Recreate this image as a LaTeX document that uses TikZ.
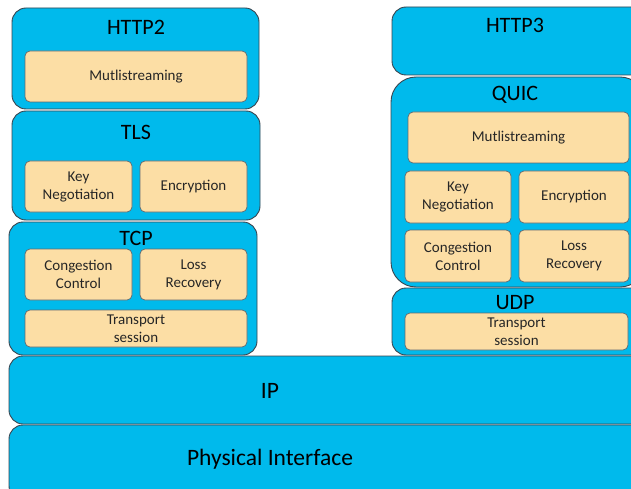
\documentclass[tikz,border=0pt]{standalone}
\usepackage{fontspec}
\setmainfont{Carlito}
\usepackage{tikz}
\usepackage{xcolor}
\definecolor{lyr}{RGB}{0,186,236}
\definecolor{fnc}{RGB}{252,222,165}
\definecolor{edg}{RGB}{58,68,78}

\begin{document}
\begin{tikzpicture}[x=1pt,y=-1pt,
  layer/.style={draw=edg,fill=lyr,line width=0.9pt,rounded corners=14pt,inner sep=0pt},
  func/.style={draw=edg!80,fill=fnc,line width=0.7pt,rounded corners=5pt,inner sep=0pt,
    align=center,text=black!85,font=\fontsize{15}{18}\selectfont},
  ttl/.style={inner sep=0pt,font=\fontsize{22}{25}\selectfont},
  big/.style={inner sep=0pt,font=\fontsize{23.5}{27}\selectfont}]
\clip (0,0) rectangle (631,489);
% left stack
\node[layer,minimum width=247,minimum height=101](http2) at (135.5,58.5){};
\node[ttl] (t-http2) at (136,27) {HTTP2};
\node[func,minimum width=222,minimum height=51](ms2) at (136,76.5){Mutlistreaming};
\node[layer,minimum width=248,minimum height=109](tls) at (136,165.5){};
\node[ttl] (t-tls) at (136,132) {TLS};
\node[func,minimum width=107,minimum height=51](kn2) at (78.5,186.5){Key\\Negotiation};
\node[func,minimum width=107,minimum height=51](enc2) at (193.5,186.5){Encryption};
\node[layer,minimum width=248,minimum height=133](tcp) at (133,288.5){};
\node[ttl] (t-tcp) at (136,238) {TCP};
\node[func,minimum width=107,minimum height=51](cc2) at (78.5,274.5){Congestion\\Control};
\node[func,minimum width=107,minimum height=51](lr2) at (193.5,274.5){Loss\\Recovery};
\node[func,minimum width=222,minimum height=37](ts2) at (136,328.5){Transport\\session};
% right stack
\node[layer,minimum width=258,minimum height=68](http3) at (521,41){};
\node[ttl] (t-http3) at (515,25) {HTTP3};
\node[layer,rounded corners=25pt,minimum width=254,minimum height=210](quic) at (518,182){};
\node[ttl] (t-quic) at (515,95) {QUIC};
\node[func,minimum width=221,minimum height=51](ms3) at (518.5,137.5){Mutlistreaming};
\node[func,minimum width=106,minimum height=52](kn3) at (458,197){Key\\Negotiation};
\node[func,minimum width=110,minimum height=52](enc3) at (574,197){Encryption};
\node[func,minimum width=106,minimum height=52](cc3) at (458,256){Congestion\\Control};
\node[func,minimum width=110,minimum height=52](lr3) at (574,256){Loss\\Recovery};
\node[layer,minimum width=258,minimum height=67](udp) at (521,321.5){};
\node[ttl] (t-udp) at (515,303) {UDP};
\node[func,minimum width=223,minimum height=37](ts3) at (516.5,331.5){Transport\\session};
% shared layers
\node[layer,minimum width=641,minimum height=68](ip) at (329.5,390){};
\node[big] (t-ip) at (270,391) {IP};
\node[layer,minimum width=641,minimum height=75](phy) at (329.5,462.5){};
\node[big] (t-phy) at (270,459) {Physical Interface};
\end{tikzpicture}
\end{document}
